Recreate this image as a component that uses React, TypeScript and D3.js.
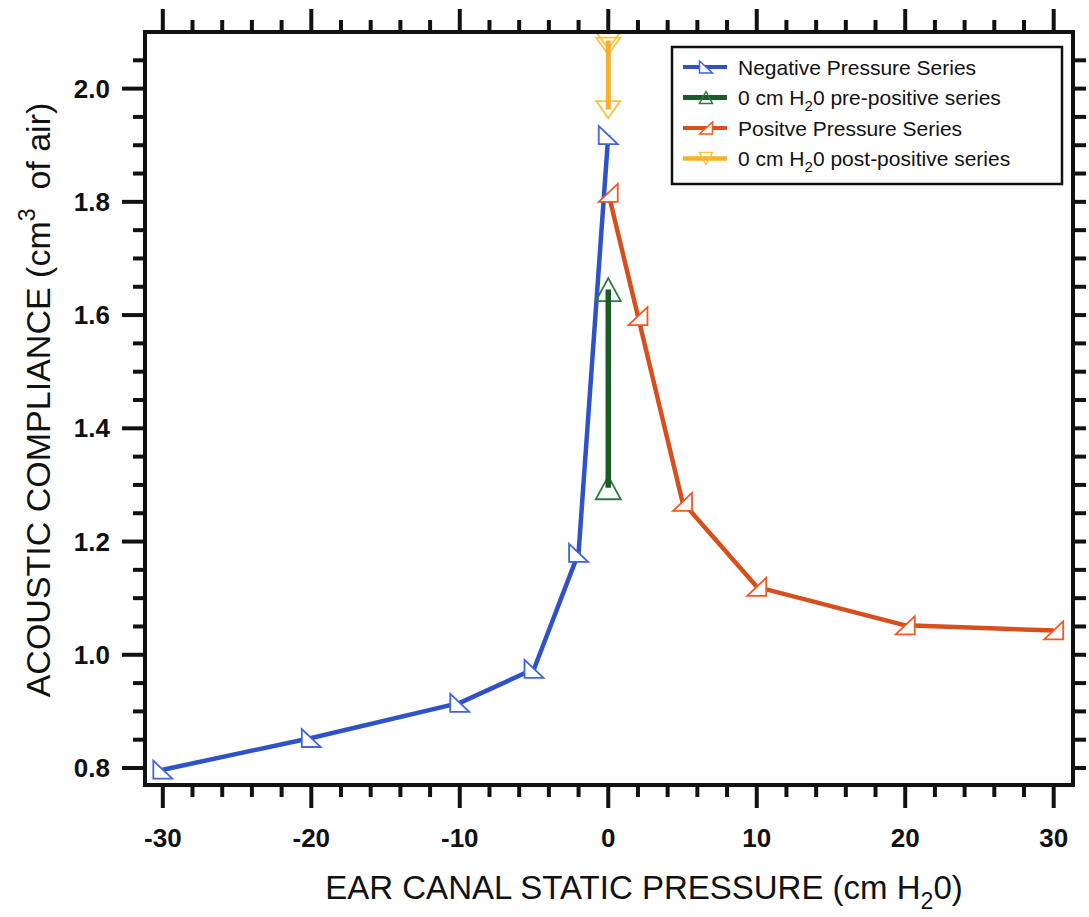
import React from "react";
import * as d3 from "d3";

// ---- data ----
const negX = [-30, -20, -10, -5, -2, 0];
const negY = [0.797, 0.853, 0.915, 0.975, 1.18, 1.918];

const preX = [0, 0];
const preY = [1.645, 1.295];

const posX = [0, 2, 5, 10, 20, 30];
const posY = [1.816, 1.598, 1.27, 1.12, 1.052, 1.043];

const postX = [0, 0, 0];
const postY = [2.085, 2.075, 1.963];

const xTickValues = [-30, -20, -10, 0, 10, 20, 30];
const yTickValues = [0.8, 1.0, 1.2, 1.4, 1.6, 1.8, 2.0];

const legendLabels = [
  "Negative Pressure Series",
  "0 cm H|2|0 pre-positive series",
  "Positve Pressure Series",
  "0 cm H|2|0 post-positive series",
];

const W = 1089;
const H = 917;
const L = 145, R = 1073, T = 32, B = 785;
const FONT = "'Liberation Sans', Arial, Helvetica, sans-serif";

type Shape = "bl" | "br" | "up" | "down";

function markerPath(shape: Shape, w: number, h: number) {
  const a = w / 2, b = h / 2;
  switch (shape) {
    case "bl":
      return `M${-a},${-b}L${-a},${b}L${a},${b}Z`;
    case "br":
      return `M${a},${-b}L${a},${b}L${-a},${b}Z`;
    case "up":
      return `M0,${-b}L${a},${b}L${-a},${b}Z`;
    case "down":
      return `M${-a},${-b}L${a},${-b}L0,${b}Z`;
  }
}

const seriesDefs = [
  { xs: negX, ys: negY, line: "#2f52c9", mk: "#4066d8", lw: 4.5, shape: "bl" as Shape, mw: 19, mh: 18, fill: "#fff", lineOver: false },
  { xs: preX, ys: preY, line: "#1d5a2a", mk: "#2e7a3e", lw: 5.5, shape: "up" as Shape, mw: 25, mh: 23, fill: "none", lineOver: true },
  { xs: posX, ys: posY, line: "#d84f1e", mk: "#f05a26", lw: 4.5, shape: "br" as Shape, mw: 19, mh: 18, fill: "#fff", lineOver: false },
  { xs: postX, ys: postY, line: "#f5b030", mk: "#f8c43c", lw: 5, shape: "down" as Shape, mw: 24, mh: 17, fill: "none", lineOver: true },
];

function Sub({ text, size }: { text: string; size: number }) {
  const parts = text.split("|");
  if (parts.length === 1) return <>{text}</>;
  return (
    <>
      {parts[0]}
      <tspan dy={size * 0.3} fontSize={size * 0.72}>{parts[1]}</tspan>
      <tspan dy={-size * 0.3}>{parts[2]}</tspan>
    </>
  );
}

export default function App() {
  const x = d3.scaleLinear().domain([-31.2, 31.3]).range([L, R]);
  const y = d3.scaleLinear().domain([0.77, 2.1]).range([B, T]);

  const xMinor = d3.range(-30, 30.01, 2);
  const yMinor = d3.range(0.8, 2.051, 0.05);
  const isMajorX = (v: number) => Math.abs(v % 10) < 1e-6;
  const isMajorY = (v: number) => Math.abs(Math.round(v * 10) % 2) === 0 && Math.abs(v * 10 - Math.round(v * 10)) < 1e-6;

  const line = d3.line<[number, number]>().x((d) => x(d[0])).y((d) => y(d[1]));

  const tickW = 4;
  const majLen = 23, minLen = 12;

  return (
    <svg width={W} height={H} style={{ position: "absolute", left: 0, top: 0, background: "#fff" }} fontFamily={FONT}>
      <rect x={0} y={0} width={W} height={H} fill="#fff" />
      {/* series */}
      {seriesDefs.map((s, i) => {
        const pts = s.xs.map((v, j) => [v, s.ys[j]] as [number, number]);
        const path = (
          <path d={line(pts) || ""} fill="none" stroke={s.line} strokeWidth={s.lw} strokeLinejoin="round" />
        );
        const marks = pts.map((p, j) => (
          <path
            key={j}
            d={markerPath(s.shape, s.mw, s.mh)}
            transform={`translate(${x(p[0])},${y(p[1])})`}
            fill={s.fill}
            stroke={s.mk}
            strokeWidth={1.8}
          />
        ));
        return (
          <g key={i}>
            {s.lineOver ? (<>{marks}{path}</>) : (<>{path}{marks}</>)}
          </g>
        );
      })}

      {/* frame */}
      <rect x={L} y={T} width={R - L} height={B - T} fill="none" stroke="#111" strokeWidth={4} />

      {/* x ticks bottom & top */}
      {xMinor.map((v) => {
        const len = isMajorX(v) ? majLen : minLen;
        return (
          <g key={"xt" + v} stroke="#111" strokeWidth={tickW}>
            <line x1={x(v)} x2={x(v)} y1={B} y2={B + len} />
            <line x1={x(v)} x2={x(v)} y1={T} y2={T - len} />
          </g>
        );
      })}
      {/* y ticks left & right */}
      {yMinor.map((v) => {
        const len = isMajorY(v) ? majLen : minLen;
        return (
          <g key={"yt" + v.toFixed(2)} stroke="#111" strokeWidth={tickW}>
            <line x1={L} x2={L - len} y1={y(v)} y2={y(v)} />
            <line x1={R} x2={R + 13} y1={y(v)} y2={y(v)} />
          </g>
        );
      })}

      {/* tick labels */}
      {xTickValues.map((v) => (
        <text key={"xl" + v} x={x(v)} y={847} textAnchor="middle" fontSize={26} fontWeight="bold" fill="#111">
          {v}
        </text>
      ))}
      {yTickValues.map((v) => (
        <text key={"yl" + v} x={110} y={y(v) + 9} textAnchor="end" fontSize={26} fontWeight="bold" fill="#111">
          {v.toFixed(1)}
        </text>
      ))}

      {/* axis titles */}
      <text x={644} y={899} textAnchor="middle" fontSize={33} fill="#111">
        EAR CANAL STATIC PRESSURE (cm H
        <tspan dy={10} fontSize={23}>2</tspan>
        <tspan dy={-10}>0)</tspan>
      </text>
      <text transform={`translate(50,400) rotate(-90)`} textAnchor="middle" fontSize={34} fill="#111">
        ACOUSTIC COMPLIANCE (cm
        <tspan dy={-15} fontSize={23}>3</tspan>
        <tspan dy={15}>{"\u00A0 of air)"}</tspan>
      </text>

      {/* legend */}
      <rect x={672} y={47} width={390} height={137} fill="#fff" stroke="#111" strokeWidth={2.5} />
      {seriesDefs.map((s, i) => {
        const cy = 67 + i * 30.5;
        return (
          <g key={"lg" + i}>
            <line x1={683} x2={727} y1={cy} y2={cy} stroke={s.line} strokeWidth={s.lw - 0.5} />
            <path
              d={markerPath(s.shape, 13, 12)}
              transform={`translate(706,${cy})`}
              fill={s.fill === "none" ? "none" : "#fff"}
              stroke={s.mk}
              strokeWidth={1.5}
            />
            <text x={738} y={cy + 7.5} fontSize={21} fill="#111">
              <Sub text={legendLabels[i]} size={21} />
            </text>
          </g>
        );
      })}
    </svg>
  );
}
